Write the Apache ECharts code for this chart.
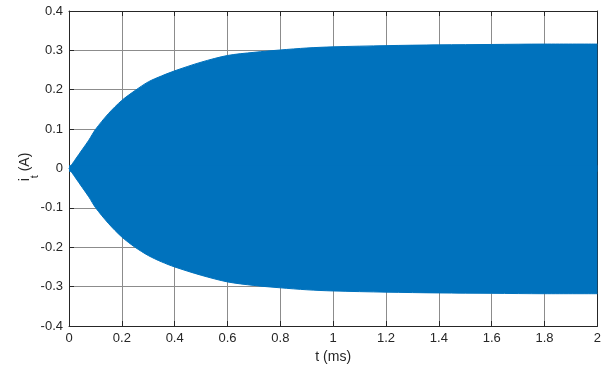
<!DOCTYPE html>
<html>
<head>
<meta charset="utf-8">
<script src="https://cdn.jsdelivr.net/npm/echarts@6/dist/echarts.min.js"></script>
<style>
html,body{margin:0;padding:0;background:#fff;}
#chart{width:604px;height:372px;}
</style>
</head>
<body>
<div id="chart"></div>
<script>
// Time samples (ms) at which the envelope of the oscillating current was read
var timeMs = [0, 0.025, 0.05, 0.075, 0.1, 0.15, 0.2, 0.25, 0.3, 0.35, 0.4, 0.5, 0.6, 0.7, 0.8, 0.9, 1.0, 1.2, 1.4, 1.6, 1.8, 2.0];
// Upper (positive peak) envelope of i_t (A)
var upperPeak = [0, 0.024, 0.048, 0.072, 0.099, 0.14, 0.173, 0.198, 0.22, 0.235, 0.248, 0.27, 0.287, 0.295, 0.301, 0.306, 0.309, 0.312, 0.314, 0.315, 0.316, 0.316];
// Lower (negative peak) envelope of i_t (A)
var lowerPeak = [0, -0.024, -0.048, -0.072, -0.099, -0.14, -0.174, -0.2, -0.221, -0.237, -0.25, -0.271, -0.288, -0.297, -0.303, -0.308, -0.311, -0.314, -0.316, -0.317, -0.318, -0.318];
var xTicks = ['0', '0.2', '0.4', '0.6', '0.8', '1', '1.2', '1.4', '1.6', '1.8', '2'];
var yTicks = ['-0.4', '-0.3', '-0.2', '-0.1', '0', '0.1', '0.2', '0.3', '0.4'];

var upperData = timeMs.map(function (t, i) { return [t, upperPeak[i]]; });
var lowerData = timeMs.map(function (t, i) { return [t, lowerPeak[i]]; });

var FONT = '"Liberation Sans", Arial, sans-serif';
var TXT = '#262626';
var BLUE = '#0072BD';

var chart = echarts.init(document.getElementById('chart'), null, {renderer: 'canvas'});
chart.setOption({
  animation: false,
  backgroundColor: '#fff',
  grid: {left: 69, right: 4, top: 11, bottom: 46, containLabel: false},
  graphic: [{
    type: 'text', x: 29, y: 167, rotation: Math.PI / 2,
    style: {
      text: '{a|i}{b|t}{a| (A)}', align: 'center', verticalAlign: 'middle',
      fill: TXT, font: '14px ' + FONT,
      rich: {
        a: {fill: TXT, fontFamily: FONT, fontSize: 14, verticalAlign: 'top', lineHeight: 22},
        b: {fill: TXT, fontFamily: FONT, fontSize: 11, verticalAlign: 'bottom', lineHeight: 22}
      }
    }
  }],
  xAxis: [{
    type: 'value', min: 0, max: 2, interval: 0.2,
    name: 't (ms)', nameLocation: 'middle', nameGap: 24,
    nameTextStyle: {color: TXT, fontFamily: FONT, fontSize: 14},
    axisLine: {show: true, onZero: false, lineStyle: {color: TXT, width: 1}},
    axisTick: {show: true, inside: true, length: 5, lineStyle: {color: TXT}},
    axisLabel: {color: TXT, fontFamily: FONT, fontSize: 13, margin: 6,
      formatter: function (v) { return xTicks[Math.round(v / 0.2)]; }},
    splitLine: {show: true, lineStyle: {color: '#8c8c8c', width: 1}}
  }, {
    type: 'value', position: 'top', min: 0, max: 2, interval: 0.2,
    axisLine: {show: true, onZero: false, lineStyle: {color: TXT, width: 1}},
    axisTick: {show: true, inside: true, length: 5, lineStyle: {color: TXT}},
    axisLabel: {show: false}, splitLine: {show: false}
  }],
  yAxis: [{
    type: 'value', min: -0.4, max: 0.4, interval: 0.1,
    axisLine: {show: true, onZero: false, lineStyle: {color: TXT, width: 1}},
    axisTick: {show: true, inside: true, length: 5, lineStyle: {color: TXT}},
    axisLabel: {color: TXT, fontFamily: FONT, fontSize: 13, margin: 6,
      formatter: function (v) { return yTicks[Math.round((v + 0.4) / 0.1)]; }},
    splitLine: {show: true, lineStyle: {color: '#8c8c8c', width: 1}}
  }, {
    type: 'value', position: 'right', min: -0.4, max: 0.4, interval: 0.1,
    axisLine: {show: true, onZero: false, lineStyle: {color: TXT, width: 1}},
    axisTick: {show: true, inside: true, length: 5, lineStyle: {color: TXT}},
    axisLabel: {show: false}, splitLine: {show: false}
  }],
  series: [{
    type: 'line', data: upperData, showSymbol: false, symbol: 'none', smooth: 0.3,
    lineStyle: {color: BLUE, width: 1}, itemStyle: {color: BLUE},
    areaStyle: {color: BLUE, opacity: 1, origin: -0.008}
  }, {
    type: 'line', data: lowerData, showSymbol: false, symbol: 'none', smooth: 0.3,
    lineStyle: {color: BLUE, width: 1}, itemStyle: {color: BLUE},
    areaStyle: {color: BLUE, opacity: 1, origin: 0.008}
  }]
});
</script>
</body>
</html>
